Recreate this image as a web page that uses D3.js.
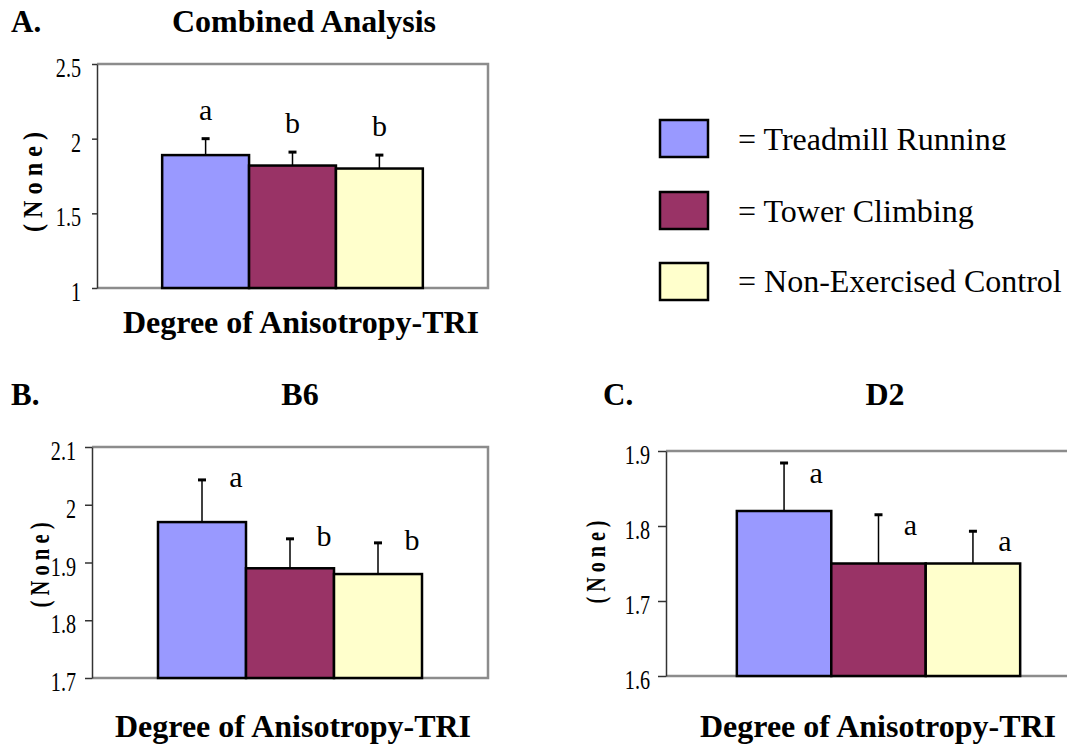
<!DOCTYPE html>
<html>
<head>
<meta charset="utf-8">
<script src="https://cdn.jsdelivr.net/npm/d3@7"></script>
<style>
  body { margin: 0; background: #fff; }
  svg { display: block; font-family: "Liberation Serif", "Times New Roman", serif; }
</style>
</head>
<body>
<div id="chart"></div>
<script>
const groups = ["Treadmill Running", "Tower Climbing", "Non-Exercised Control"];
const groupColors = ["#9999FF", "#993366", "#FFFFCC"];

const combinedMeans = [1.89, 1.82, 1.80];
const combinedErrors = [0.11, 0.09, 0.09];
const combinedLetters = ["a", "b", "b"];
const combinedTicks = [1, 1.5, 2, 2.5];

const b6Means = [1.97, 1.89, 1.88];
const b6Errors = [0.073, 0.051, 0.054];
const b6Letters = ["a", "b", "b"];
const b6Ticks = [1.7, 1.8, 1.9, 2.0, 2.1];

const d2Means = [1.82, 1.75, 1.75];
const d2Errors = [0.064, 0.065, 0.043];
const d2Letters = ["a", "a", "a"];
const d2Ticks = [1.6, 1.7, 1.8, 1.9];

const xLabel = "Degree of Anisotropy-TRI";
const yLabel = "( N o n e )";

function main() {
  const width = 1067, height = 746;
  const svg = d3.select("#chart").append("svg")
    .attr("width", width).attr("height", height)
    .attr("viewBox", [0, 0, width, height]);

  const color = d3.scaleOrdinal().domain(groups).range(groupColors);

  function makePanel(opts) {
    const { box, means, errors, letters, ticks, tag, title } = opts;
    const g = svg.append("g");
    const data = groups.map((k, i) => ({ key: k, mean: means[i], err: errors[i], letter: letters[i] }));

    const w = box.right - box.left;
    const x = d3.scaleBand().domain(groups).range([box.left + w / 6, box.right - w / 6]);
    const y = d3.scaleLinear().domain(d3.extent(ticks)).range([box.bottom, box.top]);

    // frame (gray top / right / bottom)
    g.append("path")
      .attr("d", `M${box.left},${box.top}H${box.right}V${box.bottom}H${box.left}`)
      .attr("fill", "none").attr("stroke", "#8c8c8c").attr("stroke-width", 2.5);

    g.selectAll("rect.bar").data(data).join("rect")
      .attr("class", "bar")
      .attr("x", d => x(d.key)).attr("width", x.bandwidth())
      .attr("y", d => y(d.mean)).attr("height", d => y(ticks[0]) - y(d.mean))
      .attr("fill", d => color(d.key))
      .attr("stroke", "#000").attr("stroke-width", 2.5);

    const eb = g.selectAll("g.err").data(data).join("g").attr("class", "err");
    eb.append("line")
      .attr("x1", d => x(d.key) + x.bandwidth() / 2).attr("x2", d => x(d.key) + x.bandwidth() / 2)
      .attr("y1", d => y(d.mean)).attr("y2", d => y(d.mean + d.err))
      .attr("stroke", "#000").attr("stroke-width", 1.5);
    eb.append("line")
      .attr("x1", d => x(d.key) + x.bandwidth() / 2 - 4).attr("x2", d => x(d.key) + x.bandwidth() / 2 + 4)
      .attr("y1", d => y(d.mean + d.err)).attr("y2", d => y(d.mean + d.err))
      .attr("stroke", "#000").attr("stroke-width", 3);

    g.selectAll("text.sig").data(data).join("text")
      .attr("class", "sig")
      .attr("x", d => x(d.key) + x.bandwidth() / 2 + opts.letterDx)
      .attr("y", d => y(d.mean + d.err) + opts.letterDy)
      .attr("text-anchor", "middle")
      .style("font-size", "30px")
      .text(d => d.letter);

    // left axis
    const sx = 0.72;
    const ax = g.append("g").attr("transform", `translate(${box.left},0)`)
      .call(d3.axisLeft(y).tickValues(ticks).tickSize(opts.tickLen).tickSizeOuter(0).tickFormat(d => String(d)));
    ax.select(".domain").attr("stroke", "#333").attr("stroke-width", 1.5);
    ax.selectAll(".tick line").attr("stroke", "#333").attr("stroke-width", 1.5);
    ax.selectAll(".tick text")
      .attr("fill", "#000")
      .style("font-size", "28px")
      .style("font-family", "'Liberation Serif', serif")
      .attr("x", -16 / sx)
      .attr("dy", "0.45em")
      .attr("transform", `scale(${sx},1)`);

    // y label
    g.append("text")
      .attr("transform", `translate(${opts.yLabelPos[0]},${opts.yLabelPos[1]}) rotate(-90)`)
      .attr("text-anchor", "middle").attr("dy", "0.35em")
      .attr("font-weight", "bold").style("font-size", "27px")
      .attr("textLength", opts.yLabelLen).attr("lengthAdjust", "spacingAndGlyphs")
      .text(yLabel);

    // x label
    g.append("text")
      .attr("x", opts.xLabelPos[0]).attr("y", opts.xLabelPos[1])
      .attr("text-anchor", "middle").attr("font-weight", "bold").style("font-size", "32px")
      .text(xLabel);

    // panel tag and title
    g.append("text")
      .attr("x", opts.tagPos[0]).attr("y", opts.tagPos[1])
      .attr("font-weight", "bold").style("font-size", "31px")
      .text(tag);
    g.append("text")
      .attr("x", opts.titlePos[0]).attr("y", opts.titlePos[1])
      .attr("text-anchor", "middle").attr("font-weight", "bold").style("font-size", "32px")
      .text(title);
  }

  makePanel({
    box: { left: 97, right: 488, top: 64, bottom: 288 },
    means: combinedMeans, errors: combinedErrors, letters: combinedLetters, ticks: combinedTicks,
    tag: "A.", title: "Combined Analysis",
    letterDx: 0, letterDy: -19, tickLen: 5,
    tagPos: [11, 32], titlePos: [304, 32],
    xLabelPos: [301, 333], yLabelPos: [33, 182], yLabelLen: 100
  });

  makePanel({
    box: { left: 92, right: 488, top: 447, bottom: 678 },
    means: b6Means, errors: b6Errors, letters: b6Letters, ticks: b6Ticks,
    tag: "B.", title: "B6",
    letterDx: 34, letterDy: 7, tickLen: 7,
    tagPos: [11, 405], titlePos: [300, 405],
    xLabelPos: [293, 737], yLabelPos: [40, 565], yLabelLen: 85
  });

  makePanel({
    box: { left: 666, right: 1091, top: 451, bottom: 676 },
    means: d2Means, errors: d2Errors, letters: d2Letters, ticks: d2Ticks,
    tag: "C.", title: "D2",
    letterDx: 32, letterDy: 20, tickLen: 8,
    tagPos: [603, 405], titlePos: [885, 405],
    xLabelPos: [878, 737], yLabelPos: [596, 562], yLabelLen: 83
  });

  // legend
  const legendRows = [120, 192, 263];
  const legendBaselines = [150, 222, 292];
  svg.append("clipPath").attr("id", "legclip")
    .append("rect").attr("x", 0).attr("y", 0).attr("width", width).attr("height", 150);

  const leg = svg.append("g");
  leg.selectAll("rect").data(groups).join("rect")
    .attr("x", 660).attr("y", (d, i) => legendRows[i])
    .attr("width", 48).attr("height", 37)
    .attr("fill", d => color(d)).attr("stroke", "#000").attr("stroke-width", 2.5);
  leg.selectAll("text").data(groups).join("text")
    .attr("x", 738).attr("y", (d, i) => legendBaselines[i])
    .attr("clip-path", (d, i) => i === 0 ? "url(#legclip)" : null)
    .style("font-size", "32px")
    .text(d => "= " + d);
}

main();
</script>
</body>
</html>
